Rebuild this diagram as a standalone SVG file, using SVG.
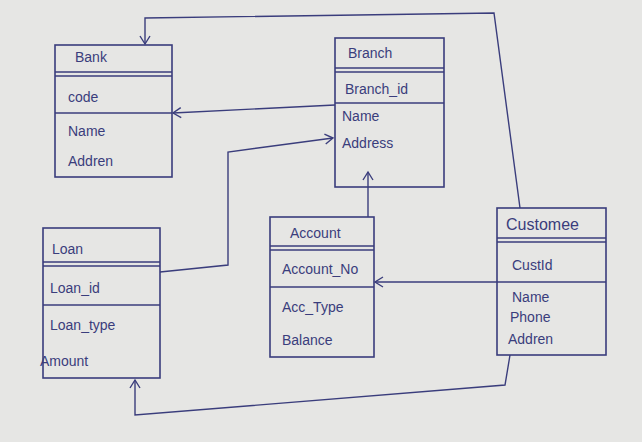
<svg xmlns="http://www.w3.org/2000/svg" width="642" height="442" viewBox="0 0 642 442">
<defs>
<style>
.b{fill:none;stroke:#3a3d7c;stroke-width:1.6}
.t{font-family:"Liberation Sans",sans-serif;font-size:14px;fill:#3a3d7c}
.c{fill:none;stroke:#3a3d7c;stroke-width:1.4}
</style>
<marker id="a" markerWidth="12" markerHeight="12" refX="10" refY="6" orient="auto" markerUnits="userSpaceOnUse">
<path d="M2,1 L10,6 L2,11" fill="none" stroke="#3a3d7c" stroke-width="1.4"/>
</marker>
</defs>
<rect width="642" height="442" fill="#e6e6e4"/>
<g id="bank">
<rect class="b" x="55" y="45" width="117" height="132"/>
<line class="b" x1="55" y1="72" x2="172" y2="72"/><line class="b" x1="55" y1="76" x2="172" y2="76"/>
<line class="b" x1="55" y1="113" x2="172" y2="113"/>
<text class="t" x="75" y="62">Bank</text>
<text class="t" x="68" y="102">code</text>
<text class="t" x="68" y="136">Name</text>
<text class="t" x="68" y="166">Addren</text>
</g>
<g id="branch">
<rect class="b" x="335" y="38" width="109" height="149"/>
<line class="b" x1="335" y1="68" x2="444" y2="68"/><line class="b" x1="335" y1="72" x2="444" y2="72"/>
<line class="b" x1="335" y1="103" x2="444" y2="103"/>
<text class="t" x="348" y="58">Branch</text>
<text class="t" x="345" y="94">Branch_id</text>
<text class="t" x="342" y="121">Name</text>
<text class="t" x="342" y="148">Address</text>
</g>
<g id="loan">
<rect class="b" x="43" y="228" width="117" height="150"/>
<line class="b" x1="43" y1="262" x2="160" y2="262"/><line class="b" x1="43" y1="266" x2="160" y2="266"/>
<line class="b" x1="43" y1="305" x2="160" y2="305"/>
<text class="t" x="52" y="254">Loan</text>
<text class="t" x="50" y="293">Loan_id</text>
<text class="t" x="50" y="330">Loan_type</text>
<text class="t" x="40" y="366">Amount</text>
</g>
<g id="account">
<rect class="b" x="270" y="217" width="104" height="140"/>
<line class="b" x1="270" y1="246" x2="374" y2="246"/><line class="b" x1="270" y1="250" x2="374" y2="250"/>
<line class="b" x1="270" y1="287" x2="374" y2="287"/>
<text class="t" x="290" y="238">Account</text>
<text class="t" x="282" y="274">Account_No</text>
<text class="t" x="282" y="312">Acc_Type</text>
<text class="t" x="282" y="345">Balance</text>
</g>
<g id="customer">
<rect class="b" x="497" y="208" width="109" height="147"/>
<line class="b" x1="497" y1="238" x2="606" y2="238"/><line class="b" x1="497" y1="242" x2="606" y2="242"/>
<line class="b" x1="497" y1="282" x2="606" y2="282"/>
<text class="t" x="506" y="230" style="font-size:16px">Customee</text>
<text class="t" x="512" y="270">CustId</text>
<text class="t" x="512" y="302">Name</text>
<text class="t" x="510" y="322">Phone</text>
<text class="t" x="508" y="344">Addren</text>
</g>
<g id="connectors">
<path class="c" d="M335,105 L173,113" marker-end="url(#a)"/>
<path class="c" d="M160,272 L228,265 L228,152 L333,138" marker-end="url(#a)"/>
<path class="c" d="M368,217 L368,172" marker-end="url(#a)"/>
<path class="c" d="M497,282 L375,282" marker-end="url(#a)"/>
<path class="c" d="M520,208 L494,13 L145,18 L145,44" marker-end="url(#a)"/>
<path class="c" d="M510,355 L505,385 L135,415 L135,380" marker-end="url(#a)"/>
</g>
</svg>
